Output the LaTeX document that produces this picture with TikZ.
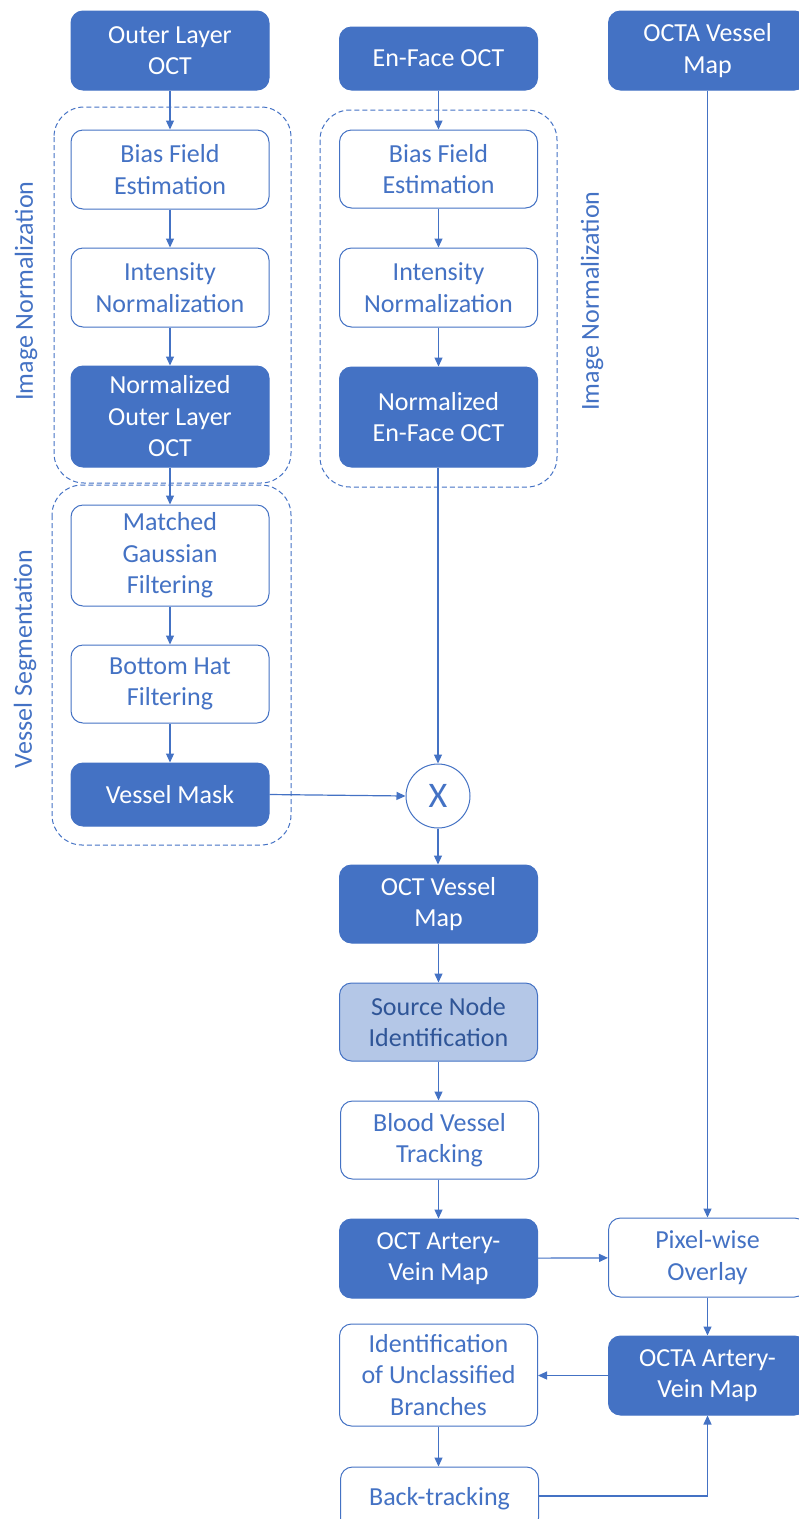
\documentclass[tikz,border=0pt]{standalone}
\usepackage{fontspec}
\setmainfont{Carlito}
\usetikzlibrary{arrows.meta}
\definecolor{myblue}{HTML}{4472C4}
\definecolor{lightblue}{HTML}{B4C7E7}
\definecolor{darkblue}{HTML}{2F5597}
\begin{document}
\begin{tikzpicture}[x=1pt,y=-1pt,
  every node/.style={font=\fontsize{26}{31.5}\selectfont, align=center, inner sep=0pt},
  fillbox/.style={rounded corners=12pt, fill=myblue, draw=myblue, line width=1pt, text=white, minimum width=198pt},
  whitebox/.style={rounded corners=12pt, fill=white, draw=myblue, line width=1pt, text=myblue, minimum width=198pt},
  srcbox/.style={rounded corners=12pt, fill=lightblue, draw=myblue, line width=1pt, text=darkblue, minimum width=198pt},
  grp/.style={draw=myblue, line width=1pt, dash pattern=on 5pt off 3pt, rounded corners=30pt},
  arr/.style={draw=myblue, line width=1.2pt, -{Triangle[length=9pt,width=8pt]}},
  lbl/.style={text=myblue, rotate=90}
]
\useasboundingbox (0,0) rectangle (799,1519);
% groups
\draw[grp] (54,107) rectangle (291,483);
\draw[grp] (52,485) rectangle (291,845);
\draw[grp] (320,110) rectangle (557,487);
\node[lbl] (lblA) at (26,291) {Image Normalization};
\node[lbl] (lblB) at (25,659) {Vessel Segmentation};
\node[lbl] (lblC) at (592,301) {Image Normalization};
% left column
\node[fillbox, minimum height=79pt] (olo) at (170,50.5) {Outer Layer\\OCT};
\node[whitebox, minimum height=79pt] (bfl) at (170,169.5) {Bias Field\\Estimation};
\node[whitebox, minimum height=79pt] (inl) at (170,287.5) {Intensity\\Normalization};
\node[fillbox, minimum height=101pt] (nol) at (170,416.5) {Normalized\\Outer Layer\\OCT};
\node[whitebox, minimum height=101pt] (mgf) at (170,555.5) {Matched\\Gaussian\\Filtering};
\node[whitebox, minimum height=78pt] (bhf) at (170,684) {Bottom Hat\\Filtering};
\node[fillbox, minimum height=63pt] (vm) at (170,794.5) {Vessel Mask};
% middle column
\node[fillbox, minimum height=63pt] (efo) at (438.5,58.5) {En-Face OCT};
\node[whitebox, minimum height=78pt] (bfm) at (438.5,169) {Bias Field\\Estimation};
\node[whitebox, minimum height=79pt] (inm) at (438.5,287.5) {Intensity\\Normalization};
\node[fillbox, minimum height=100pt] (nef) at (438.5,417) {Normalized\\En-Face OCT};
\node[circle, draw=myblue, line width=1pt, fill=white, text=myblue, minimum size=64pt, font=\fontsize{36}{40}\selectfont] (x) at (438,796) {X};
\node[fillbox, minimum height=78pt] (ovm) at (438.5,904) {OCT Vessel\\Map};
\node[srcbox, minimum height=78pt] (sni) at (438.5,1022) {Source Node\\Identification};
\node[whitebox, minimum height=78pt] (bvt) at (439.5,1140) {Blood Vessel\\Tracking};
\node[fillbox, minimum height=79pt] (oav) at (438.5,1258.5) {OCT Artery-\\Vein Map};
\node[whitebox, minimum height=102pt] (iub) at (438.5,1375) {Identification\\of Unclassified\\Branches};
\node[whitebox, minimum height=63pt] (bt) at (439.5,1498.5) {Back-tracking};
% right column
\node[fillbox, minimum height=79pt] (ovmap) at (707.5,50.5) {OCTA Vessel\\Map};
\node[whitebox, minimum height=79pt] (pwo) at (707.5,1257.5) {Pixel-wise\\Overlay};
\node[fillbox, minimum height=79pt] (oaav) at (707.5,1375.5) {OCTA Artery-\\Vein Map};
% arrows
\draw[arr] (olo) -- (bfl);
\draw[arr] (bfl) -- (inl);
\draw[arr] (inl) -- (nol);
\draw[arr] (nol) -- (mgf);
\draw[arr] (mgf) -- (bhf);
\draw[arr] (bhf) -- (vm);
\draw[arr] (efo) -- (bfm);
\draw[arr] (bfm) -- (inm);
\draw[arr] (inm) -- (nef);
\draw[arr] (nef.south -| x.north) -- (x.north);
\draw[arr] (vm.east) -- (x.west);
\draw[arr] (x) -- (ovm.north -| x.south);
\draw[arr] (ovm) -- (sni);
\draw[arr] (sni) -- (bvt.north -| sni.south);
\draw[arr] (bvt.south -| oav.north) -- (oav);
\draw[arr] (oav) -- (pwo);
\draw[arr] (ovmap) -- (pwo);
\draw[arr] (pwo) -- (oaav);
\draw[arr] (oaav.west) -- (iub.east |- oaav.west);
\draw[arr] (iub) -- (bt.north -| iub.south);
\draw[arr] (bt.east |- 0,1496) -| (oaav.south);
\end{tikzpicture}
\end{document}
